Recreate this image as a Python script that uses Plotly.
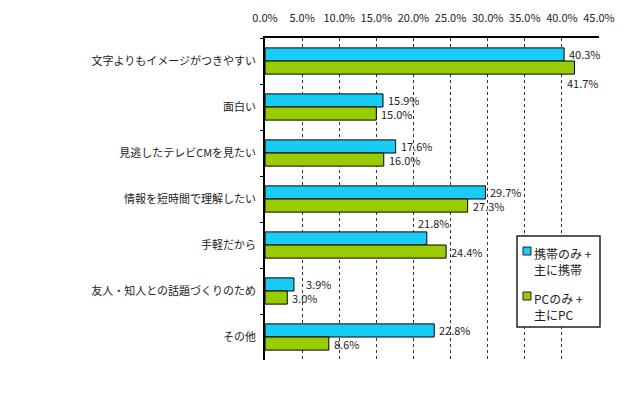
import plotly.graph_objects as go

categories = ["文字よりもイメージがつきやすい", "面白い", "見逃したテレビCMを見たい",
              "情報を短時間で理解したい", "手軽だから", "友人・知人との話題づくりのため", "その他"]
mobile = [40.3, 15.9, 17.6, 29.7, 21.8, 3.9, 22.8]
pc = [41.7, 15.0, 16.0, 27.3, 24.4, 3.0, 8.6]
series_names = [["携帯のみ +", "主に携帯"], ["PCのみ +", "主にPC"]]
tick_vals = [0, 5, 10, 15, 20, 25, 30, 35, 40, 45]
tick_text = ["0.0%", "5.0%", "10.0%", "15.0%", "20.0%", "25.0%", "30.0%", "35.0%", "40.0%", "45.0%"]

FONT = "Noto Sans CJK JP"
blue = "#19CCF5"
green = "#99CC00"
colors = [blue, green]

fig = go.Figure()
fig.add_trace(go.Bar(y=categories, x=mobile, orientation="h", name=" ".join(series_names[0]),
                     marker=dict(color=blue, line=dict(color="#000000", width=1))))
fig.add_trace(go.Bar(y=categories, x=pc, orientation="h", name=" ".join(series_names[1]),
                     marker=dict(color=green, line=dict(color="#000000", width=1))))

# data labels: per-label pixel nudges (xshift, yshift)
mobile_shift = {0: (3, 0), 4: (-11, 15), 5: (10, 0)}
pc_shift = {0: (-10, -15)}
for i, (c, v) in enumerate(zip(categories, mobile)):
    xs, ys = mobile_shift.get(i, (3, 0))
    fig.add_annotation(x=v, y=c, text=f"{v:.1f}%", showarrow=False, xanchor="left",
                       yanchor="middle", xshift=xs, yshift=7 + ys,
                       font=dict(family=FONT, size=11, color="#222222"))
for i, (c, v) in enumerate(zip(categories, pc)):
    xs, ys = pc_shift.get(i, (3, 0))
    fig.add_annotation(x=v, y=c, text=f"{v:.1f}%", showarrow=False, xanchor="left",
                       yanchor="middle", xshift=xs, yshift=-7 + ys,
                       font=dict(family=FONT, size=11, color="#222222"))

# manual legend (paper coordinates of the plot area: x 265..599, y 38..360)
PX0, PX1, PY0, PY1 = 265, 599, 38, 360
def px(x):
    return (x - PX0) / (PX1 - PX0)
def py(y):
    return (PY1 - y) / (PY1 - PY0)

fig.add_shape(type="rect", xref="paper", yref="paper",
              x0=px(517), x1=px(600), y0=py(327), y1=py(236),
              line=dict(color="#222222", width=1.5), fillcolor="white", layer="above")
for k, (lines, col) in enumerate(zip(series_names, colors)):
    top = 247 + k * 45
    fig.add_shape(type="rect", xref="paper", yref="paper",
                  x0=px(523), x1=px(531), y0=py(top + 8), y1=py(top),
                  line=dict(color="#222222", width=1), fillcolor=col, layer="above")
    fig.add_annotation(xref="paper", yref="paper", x=px(532), y=py(top - 4),
                       text="<br>".join(lines), showarrow=False, xanchor="left",
                       yanchor="top", align="left",
                       font=dict(family=FONT, size=12, color="#222222"))

fig.update_layout(
    width=640, height=412,
    margin=dict(l=PX0, r=640 - PX1, t=PY0, b=412 - PY1),
    paper_bgcolor="white", plot_bgcolor="white",
    barmode="group", bargap=0.43, bargroupgap=0,
    font=dict(family=FONT, size=11, color="#222222"),
    showlegend=False,
    xaxis=dict(side="top", range=[0, 45], tickvals=tick_vals, ticktext=tick_text,
               showgrid=True, gridcolor="#333333", griddash="3px,3px", gridwidth=1,
               showline=True, linecolor="#000000", linewidth=1.5,
               zeroline=False, ticks="", fixedrange=True, automargin=False,
               ticklabelstandoff=10,
               tickfont=dict(family=FONT, size=11, color="#222222")),
    yaxis=dict(range=[len(categories) - 0.5, -0.5], autorange=False,
               showline=True, linecolor="#000000", linewidth=1.5,
               ticks="outside", tickson="boundaries", ticklen=3, tickcolor="#000000",
               showgrid=False, ticksuffix="  ", automargin=False,
               tickfont=dict(family=FONT, size=11, color="#222222")),
)

fig.write_html("out.html")
